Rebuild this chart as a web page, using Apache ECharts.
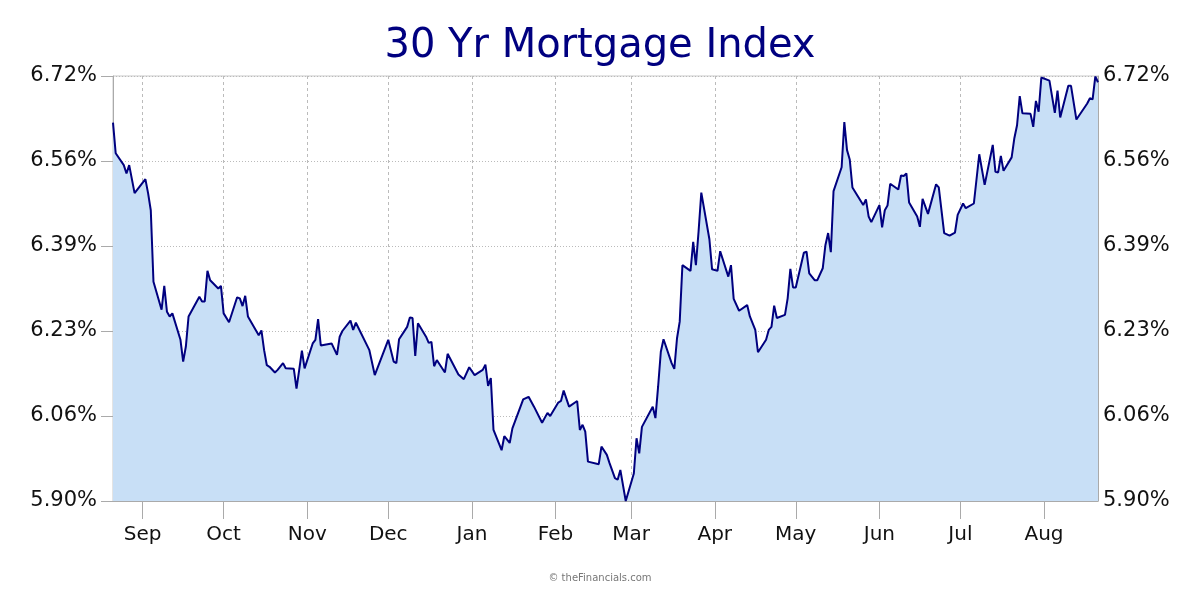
<!DOCTYPE html>
<html><head><meta charset="utf-8">
<script src="https://cdn.jsdelivr.net/npm/echarts@6/dist/echarts.min.js"></script>
<style>html,body{margin:0;padding:0;background:#fff}#c{width:1200px;height:600px}</style>
</head><body><div id="c"></div>
<script>
const dates = [
'2022-08-21','2022-08-22','2022-08-25','2022-08-26','2022-08-27','2022-08-29',
'2022-09-02','2022-09-03','2022-09-04','2022-09-05','2022-09-08','2022-09-09','2022-09-10','2022-09-11','2022-09-12',
'2022-09-15','2022-09-16','2022-09-17','2022-09-18','2022-09-22','2022-09-23','2022-09-24','2022-09-25','2022-09-26',
'2022-09-29','2022-09-30','2022-10-01','2022-10-03','2022-10-06','2022-10-07','2022-10-08','2022-10-09','2022-10-10',
'2022-10-14','2022-10-15','2022-10-16','2022-10-17','2022-10-18','2022-10-20','2022-10-21','2022-10-23','2022-10-24',
'2022-10-27','2022-10-28','2022-10-29','2022-10-30','2022-10-31','2022-11-03','2022-11-04','2022-11-05','2022-11-06',
'2022-11-10','2022-11-12','2022-11-13','2022-11-14','2022-11-17','2022-11-18','2022-11-19','2022-11-24','2022-11-26',
'2022-12-01','2022-12-03','2022-12-04','2022-12-05','2022-12-08','2022-12-09','2022-12-10','2022-12-11','2022-12-12',
'2022-12-15','2022-12-16','2022-12-17','2022-12-18','2022-12-19','2022-12-20','2022-12-22','2022-12-23','2022-12-27',
'2022-12-29','2022-12-31','2023-01-02','2023-01-05','2023-01-06','2023-01-07','2023-01-08','2023-01-09','2023-01-12',
'2023-01-13','2023-01-15','2023-01-16','2023-01-20','2023-01-22','2023-01-24','2023-01-27','2023-01-29','2023-01-30',
'2023-02-02','2023-02-03','2023-02-04','2023-02-06','2023-02-09','2023-02-10','2023-02-11','2023-02-12','2023-02-13',
'2023-02-17','2023-02-18','2023-02-20','2023-02-21','2023-02-23','2023-02-24','2023-02-25','2023-02-27','2023-03-02',
'2023-03-03','2023-03-04','2023-03-05','2023-03-09','2023-03-10','2023-03-11','2023-03-12','2023-03-13','2023-03-16',
'2023-03-17','2023-03-18','2023-03-19','2023-03-20','2023-03-23','2023-03-24','2023-03-25','2023-03-26','2023-03-27',
'2023-03-30','2023-03-31','2023-04-02','2023-04-03','2023-04-06','2023-04-07','2023-04-08','2023-04-10','2023-04-13',
'2023-04-14','2023-04-16','2023-04-17','2023-04-20','2023-04-21','2023-04-22','2023-04-23','2023-04-24','2023-04-27',
'2023-04-28','2023-04-29','2023-04-30','2023-05-01','2023-05-04','2023-05-05','2023-05-06','2023-05-08','2023-05-09',
'2023-05-11','2023-05-12','2023-05-13','2023-05-14','2023-05-15','2023-05-18','2023-05-19','2023-05-20','2023-05-21',
'2023-05-22','2023-05-26','2023-05-27','2023-05-28','2023-05-29','2023-06-01','2023-06-02','2023-06-03','2023-06-04',
'2023-06-05','2023-06-08','2023-06-09','2023-06-10','2023-06-11','2023-06-12','2023-06-15','2023-06-16','2023-06-17',
'2023-06-19','2023-06-22','2023-06-23','2023-06-25','2023-06-27','2023-06-29','2023-06-30','2023-07-02','2023-07-03',
'2023-07-06','2023-07-08','2023-07-10','2023-07-13','2023-07-14','2023-07-15','2023-07-16','2023-07-17','2023-07-20',
'2023-07-21','2023-07-22','2023-07-23','2023-07-24','2023-07-27','2023-07-28','2023-07-29','2023-07-30','2023-07-31',
'2023-08-03','2023-08-05','2023-08-06','2023-08-07','2023-08-10','2023-08-11','2023-08-13','2023-08-17','2023-08-18',
'2023-08-19','2023-08-20','2023-08-21'
];
const rates = [
6.630,6.571,6.548,6.532,6.548,6.494,
6.521,6.494,6.461,6.323,6.269,6.315,6.265,6.256,6.262,
6.211,6.169,6.198,6.256,6.294,6.285,6.285,6.344,6.326,
6.310,6.315,6.262,6.245,6.293,6.291,6.276,6.296,6.256,
6.220,6.229,6.191,6.162,6.159,6.148,6.153,6.166,6.156,
6.155,6.117,6.153,6.190,6.156,6.204,6.211,6.251,6.200,
6.204,6.182,6.217,6.228,6.248,6.230,6.244,6.191,6.143,
6.211,6.169,6.166,6.212,6.236,6.254,6.253,6.180,6.243,
6.217,6.205,6.207,6.160,6.172,6.164,6.148,6.184,6.144,
6.135,6.158,6.143,6.153,6.163,6.122,6.137,6.037,5.998,
6.025,6.012,6.040,6.096,6.101,6.082,6.051,6.070,6.064,
6.090,6.093,6.113,6.082,6.093,6.037,6.047,6.034,5.976,
5.971,6.005,5.989,5.973,5.944,5.941,5.960,5.900,5.953,
6.021,5.992,6.043,6.082,6.060,6.121,6.188,6.212,6.166,
6.155,6.214,6.246,6.355,6.344,6.400,6.355,6.421,6.495,
6.405,6.347,6.344,6.382,6.333,6.355,6.290,6.267,6.278,
6.256,6.230,6.187,6.211,6.230,6.236,6.277,6.253,6.259,
6.291,6.348,6.312,6.312,6.379,6.381,6.339,6.326,6.326,
6.349,6.394,6.417,6.380,6.498,6.544,6.631,6.577,6.559,
6.505,6.471,6.482,6.449,6.438,6.471,6.428,6.461,6.470,
6.512,6.501,6.528,6.527,6.532,6.476,6.449,6.429,6.483,
6.454,6.511,6.505,6.417,6.412,6.418,6.452,6.474,6.465,
6.474,6.569,6.510,6.587,6.535,6.534,6.566,6.537,6.563,
6.600,6.625,6.681,6.648,6.647,6.622,6.672,6.651,6.717,
6.711,6.649,6.692,6.640,6.701,6.701,6.636,6.667,6.677,
6.675,6.719,6.708
];
const monthLabels = ['Jan','Feb','Mar','Apr','May','Jun','Jul','Aug','Sep','Oct','Nov','Dec'];
const yMin = 5.90, yMax = 6.72, yStep = 0.164;
const titleText = '30 Yr Mortgage Index';
const creditText = '\u00A9 theFinancials.com';

const FONT = 'DejaVu Sans';
const DAY = 86400000;
const chart = echarts.init(document.getElementById('c'));
const yAxisBase = {
  type: 'value', min: yMin, max: yMax, interval: yStep,
  axisLabel: { formatter: v => v.toFixed(2) + '%', fontFamily: FONT, fontSize: 21, color: '#111' }
};
chart.setOption({
  animation: false,
  title: [
    { text: titleText, left: 'center', top: 22,
      textStyle: { fontFamily: FONT, fontSize: 40, fontWeight: 'normal', color: '#000080' } },
    { text: creditText, left: 'center', top: 568,
      textStyle: { fontFamily: FONT, fontSize: 10, fontWeight: 'normal', color: '#777' } }
  ],
  grid: { left: 113, right: 102, top: 76, bottom: 99, show: true, borderColor: '#c8c8c8', borderWidth: 1 },
  xAxis: {
    type: 'time', min: 'dataMin', max: 'dataMax', splitNumber: 12,
    minInterval: 28 * DAY, maxInterval: 31 * DAY,
    axisLine: { lineStyle: { color: '#aaa' } },
    axisTick: { show: true, length: 18, lineStyle: { color: '#aaa' } },
    axisLabel: { formatter: v => monthLabels[new Date(v).getMonth()], fontFamily: FONT, fontSize: 20, color: '#111', margin: 24 },
    splitLine: { show: true, lineStyle: { color: '#bbb', type: [3, 3] } }
  },
  yAxis: [
    Object.assign({}, yAxisBase, {
      position: 'left',
      axisLine: { show: true, lineStyle: { color: '#aaa' } },
      axisTick: { show: true, length: 12, lineStyle: { color: '#aaa' } },
      axisLabel: Object.assign({}, yAxisBase.axisLabel, { margin: 16 }),
      splitLine: { show: true, lineStyle: { color: '#bbb', type: [1, 2] } }
    }),
    Object.assign({}, yAxisBase, {
      position: 'right',
      axisLine: { show: true, lineStyle: { color: '#aaa' } },
      axisTick: { show: false },
      axisLabel: Object.assign({}, yAxisBase.axisLabel, { margin: 5 }),
      splitLine: { show: false }
    })
  ],
  series: [{
    type: 'line', yAxisIndex: 0,
    data: dates.map((d, i) => [d, rates[i]]),
    showSymbol: false, symbol: 'none',
    lineStyle: { color: '#00007f', width: 2 },
    areaStyle: { color: '#c8dff6', opacity: 1, origin: 'start' },
    z: 3
  }]
});
</script></body></html>
